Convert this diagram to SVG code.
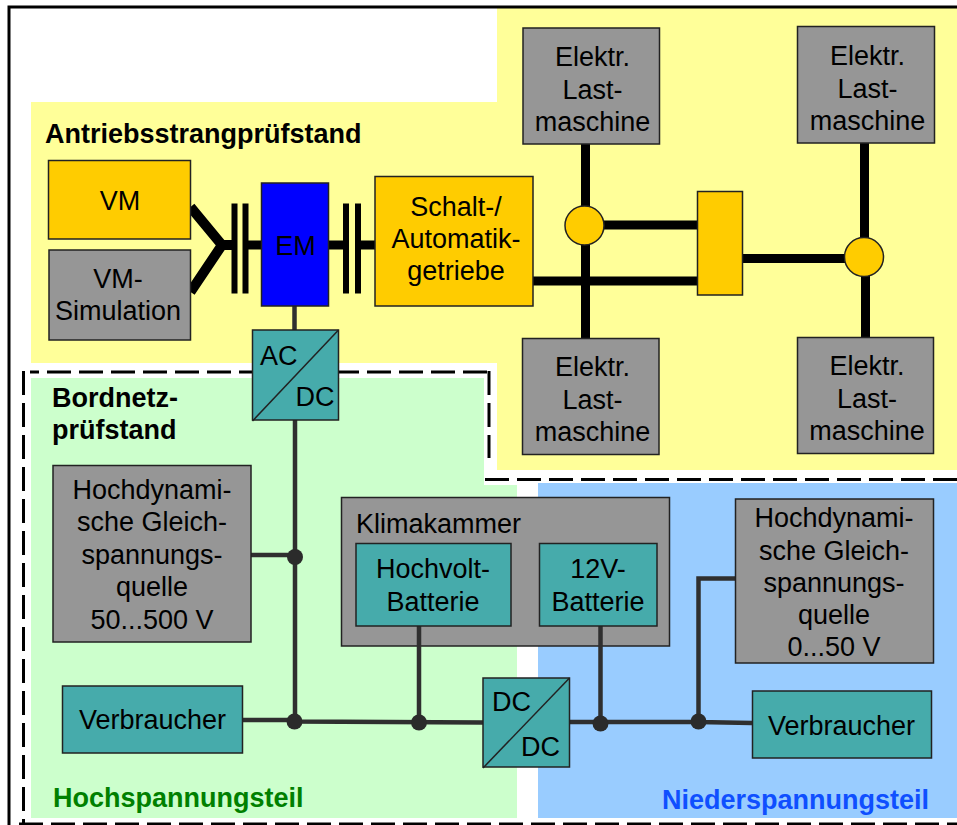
<svg xmlns="http://www.w3.org/2000/svg" width="957" height="825" viewBox="0 0 957 825">
<style>
text{font-family:"Liberation Sans",Arial,sans-serif;font-size:27px;fill:#000;transform:translateY(.8px)}
.m{text-anchor:middle}
.b{font-weight:bold;font-size:27px}
.n{stroke:#222;stroke-width:1.5}
.y{fill:#FFCC00}.g{fill:#969696}.t{fill:#46ABAB}
.dash{fill:none;stroke:#000;stroke-width:3;stroke-dasharray:24 8}
.thick{fill:none;stroke:#000;stroke-width:9}
.bar{fill:#000}
.wire{fill:none;stroke:#2f2f2f;stroke-width:4.5}
.dot{fill:#2b2b2b}
</style>
<rect width="957" height="825" fill="#fff"/>
<g id="regions">
<path d="M31 102H497V8H957V470H497V363H31Z" fill="#FFFF99"/>
<path d="M31 378H484V485H517V818H31Z" fill="#CCFFCC"/>
<rect x="538" y="483" width="419" height="335" fill="#99CCFF"/>
<path d="M9 825V7H957" fill="none" stroke="#000" stroke-width="3"/>
<path class="dash" d="M23.5 371V825"/>
<path class="dash" stroke-dashoffset="15" d="M30 372H490"/>
<path class="dash" d="M489 371V458"/>
<path class="dash" d="M485 479.5H957"/>
<path class="dash" d="M19 824H957"/>
</g>
<g id="klimakammer"><rect class="n g" x="341.500" y="497.500" width="328" height="148.500"/><text x="356" y="532">Klimakammer</text></g>
<g id="connectors">
<path class="thick" style="stroke-width:10" d="M190.500 207L222 245L190.500 292M222 245H232"/>
<rect class="bar" x="231.500" y="203.500" width="6" height="90"/>
<rect class="bar" x="242.500" y="203.500" width="6" height="90"/>
<path class="thick" d="M248 245H262M328 245H349M361 245H376"/>
<rect class="bar" x="343" y="203.500" width="6" height="90"/>
<rect class="bar" x="355" y="203.500" width="6" height="90"/>
<path class="thick" d="M585.500 144V339M864.500 143V257M865.500 257V338M604 225H698M533 281H698M742 258.500H845"/>
<path class="wire" d="M294.500 306V331M295 420V722M251 555H295M242 720H295M295 721.500L483 722.500M419 625V722M600.500 626V723M569 722H698L752 723M698.500 722V578.500H736"/>
<circle class="dot" cx="295" cy="557" r="8"/>
<circle class="dot" cx="294.500" cy="721.500" r="8"/>
<circle class="dot" cx="419" cy="722.500" r="8"/>
<circle class="dot" cx="600.500" cy="723.500" r="8"/>
<circle class="dot" cx="698.500" cy="721.500" r="8"/>
</g>
<g id="labels-regions">
<text class="b" x="45" y="142.500">Antriebsstrangprüfstand</text>
<text class="b" x="52" y="406">Bordnetz-</text>
<text class="b" x="52" y="438.500">prüfstand</text>
<text class="b" x="53" y="806.500" style="fill:#008000">Hochspannungsteil</text>
<text class="b" x="929" y="808" text-anchor="end" style="fill:#0F4FFF">Niederspannungsteil</text>
</g>
<g id="vm"><rect class="n y" x="48.500" y="160.500" width="142" height="78.500"/><text class="m" x="120" y="209">VM</text></g>
<g id="vm-simulation"><rect class="n g" x="49" y="250" width="141.500" height="90"/><text class="m" x="118" y="287">VM-</text><text class="m" x="118" y="319">Simulation</text></g>
<g id="em"><rect class="n" fill="#0000FF" x="261.500" y="183" width="67" height="123"/><text class="m" x="295.500" y="254">EM</text></g>
<g id="getriebe"><rect class="n y" x="375" y="176.500" width="158" height="129.500"/><text class="m" x="456" y="215">Schalt-/</text><text class="m" x="456" y="247">Automatik-</text><text class="m" x="456" y="279.500">getriebe</text></g>
<g id="ac-dc"><rect class="n t" x="252.500" y="330" width="86" height="90"/><path class="n" d="M252.500 421L338.500 330" fill="none"/><text x="260" y="364">AC</text><text x="295.500" y="405.500">DC</text></g>
<g id="last-tl"><rect class="n g" x="523" y="28" width="136.500" height="116"/><text class="m" x="592.500" y="65.500">Elektr.</text><text class="m" x="592.500" y="98">Last-</text><text class="m" x="592.500" y="130.500">maschine</text></g>
<g id="last-tr"><rect class="n g" x="797.500" y="26.500" width="137" height="116.500"/><text class="m" x="867.500" y="64">Elektr.</text><text class="m" x="867.500" y="97">Last-</text><text class="m" x="867.500" y="129">maschine</text></g>
<g id="last-bl"><rect class="n g" x="522.500" y="338.500" width="136.500" height="116"/><text class="m" x="592.500" y="375.500">Elektr.</text><text class="m" x="592.500" y="408">Last-</text><text class="m" x="592.500" y="440.500">maschine</text></g>
<g id="last-br"><rect class="n g" x="797.500" y="337.500" width="136" height="116"/><text class="m" x="867" y="374">Elektr.</text><text class="m" x="867" y="407">Last-</text><text class="m" x="867" y="439.500">maschine</text></g>
<g id="verteiler"><rect class="n y" x="697.500" y="191.500" width="45" height="103.500"/></g>
<g id="gelenk-l"><circle class="n y" cx="584.500" cy="225.500" r="19.500"/></g>
<g id="gelenk-r"><circle class="n y" cx="864" cy="257" r="19.500"/></g>
<g id="quelle-hv"><rect class="n g" x="53" y="465.500" width="198" height="176.500"/><text class="m" x="152" y="498">Hochdynami-</text><text class="m" x="152" y="530.500">sche Gleich-</text><text class="m" x="152" y="563">spannungs-</text><text class="m" x="152" y="595.500">quelle</text><text class="m" x="152" y="628.500">50...500 V</text></g>
<g id="verbraucher-hv"><rect class="n t" x="62.500" y="686" width="180" height="67"/><text class="m" x="152.500" y="728">Verbraucher</text></g>
<g id="hochvolt"><rect class="n t" x="356" y="543.500" width="155" height="82.500"/><text class="m" x="433" y="577">Hochvolt-</text><text class="m" x="433" y="610.500">Batterie</text></g>
<g id="batterie-12v"><rect class="n t" x="539.500" y="543.500" width="117.500" height="82.500"/><text class="m" x="598" y="577">12V-</text><text class="m" x="598" y="610.500">Batterie</text></g>
<g id="dc-dc"><rect class="n t" x="483" y="678" width="86.500" height="89"/><path class="n" d="M483 768L569.500 678" fill="none"/><text x="492" y="710">DC</text><text x="521" y="755">DC</text></g>
<g id="quelle-nv"><rect class="n g" x="735.500" y="499" width="198" height="164"/><text class="m" x="834" y="526">Hochdynami-</text><text class="m" x="834" y="559">sche Gleich-</text><text class="m" x="834" y="591">spannungs-</text><text class="m" x="834" y="623.500">quelle</text><text class="m" x="834" y="655.500">0...50 V</text></g>
<g id="verbraucher-nv"><rect class="n t" x="752.500" y="691" width="179" height="67"/><text class="m" x="841.500" y="734">Verbraucher</text></g>
</svg>
